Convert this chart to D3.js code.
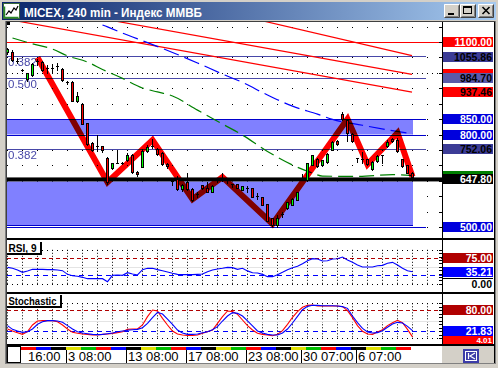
<!DOCTYPE html>
<html><head><meta charset="utf-8">
<script src="https://cdn.jsdelivr.net/npm/d3@7"></script>
<style>html,body{margin:0;padding:0;background:#d4d0c8;overflow:hidden}svg{display:block}</style>
</head><body><svg id="c" width="498" height="368"></svg>
<script>
// ---------------- DATA ----------------
const opens  = [1066,1068,1040,1009,979,993,1038,1036,1017,1016,1022,1012,969,970,910,900,836,772,764,762,724,691,709,706,716,733,679,695,745,764,752,739,705,648,657,622,647,624,606,635,625,614,652,654,651,638,638,621,627,627,601,597,575,528,506,541,562,572,588,660,653,702,722,700,711,751,779,868,847,803,723,722,719,688,715,732,762,787,781,719,700,676];
const highs  = [1080,1075,1047,1011,1000,1032,1045,1040,1025,1029,1031,1015,975,973,937,901,838,775,798,764,726,709,750,712,739,736,680,752,765,784,755,742,708,659,665,640,675,626,614,637,647,636,658,674,660,638,639,634,633,628,610,598,576,530,539,549,582,594,615,672,708,734,724,718,740,778,781,873,848,805,723,744,721,713,733,733,782,790,790,720,701,678];
const lows   = [1062,1038,1033,1007,975,990,1026,1006,1004,998,1009,975,964,908,906,834,766,747,748,744,640,689,706,703,714,676,664,693,743,756,733,701,690,636,620,618,620,585,598,624,612,612,647,648,643,631,625,619,614,597,591,570,518,502,501,533,558,570,586,652,650,700,695,698,708,749,767,846,780,777,712,706,700,686,712,706,760,776,744,695,674,660];
const closes = [1077,1042,1039,1009,998,1028,1037,1010,1016,1015,1021,978,968,910,925,835,768,750,763,750,646,707,708,705,732,677,672,747,760,763,736,703,698,647,622,636,622,587,605,626,614,633,651,653,650,638,626,632,626,598,600,572,521,505,530,540,580,592,613,659,706,732,697,716,738,776,769,849,804,779,723,721,704,711,730,732,776,778,745,697,676,663];

const rsiValues = [48.4,45.5,40.6,33.7,37.6,42.5,42.5,42.5,41.6,41.6,40.6,38.6,27.8,23.9,22,19,15.1,15.1,15.1,15.1,6.3,24.9,25.9,24.9,32.7,28.8,25.9,41.6,45.5,45.5,41.6,38.6,34.7,30.8,27.8,26.9,26.9,26.9,27.8,28.8,35.7,40.6,43.5,45.5,48.4,47.5,42.5,45.5,38,32.7,31.8,27.8,21,21,26.9,33.7,41.6,47.5,51.4,59.2,68,73.9,72.9,67,68,72.9,73.9,78.8,70,63.1,55.3,49.4,49.4,49.4,53.3,54.3,60.2,63.1,55.3,45.5,38.6,35.21];
const stochK = [26.6,20.9,16.1,11.3,18.9,38,49.4,50.4,50.4,50.4,47.5,38,26.6,17,14.2,12.3,11.3,9.4,9.4,11.3,12.3,14.2,16.1,18.9,25.6,26.6,26.6,38,61.8,80.9,78,57,38,20.9,12.3,9.4,8.4,8.4,9.4,14.2,18.9,23.7,42.8,61.8,78,76.2,68.5,52.3,36,23.7,14.2,11.3,9.4,7.5,11.3,21.8,40,60,76.2,88.5,94.2,95.1,92.3,92.3,92.3,92.3,92.3,90.4,79,59,36.2,20,12.3,11.3,18,24.6,36.2,44.7,51.4,44.7,25.6,4.01];
const stochD = [36.2,25.6,20.9,17,18.9,26.6,40,47.5,50.4,50.4,49.4,45.6,36.2,26.6,18.9,15.1,13.2,11.3,10.4,11.3,13.2,15.1,18.9,20.9,22.8,24.6,25.6,30.4,42.8,59,74.2,69.4,55.1,40,23.7,15.1,11.3,11.3,12.3,16.1,18.9,24.6,33.2,49.4,63.7,73.3,71.3,63.7,50,35.2,20.9,15.1,11.3,9.4,9.4,15.1,26.6,43.7,62.8,81.8,91.3,94.2,94.2,93.2,93.2,93.2,92.3,90.4,85.6,63.7,44.7,28.5,18,15.1,16.1,21.8,31.4,41,45.6,43.7,34.2,21.83];

const zigzagIdx = [6,20,29,37,43,53,68,72,78,81];
const zigzagVal = [1050,645,782,590,662,510,850,703,805,663];

const maGreenIdx = [1,5,9,12,16,19,23,27,30,33,38,43,47,52,57,61,63,70,77,81];
const maGreenVal = [1113,1094,1077,1055,1035,1011,982,951,938,925,879,834,798,745,701,675,665,664,670,667];
const maBlueIdx = [19,20,23,28,33,38,43,47,52,57,62,65,71,76,81];
const maBlueVal = [1155,1149,1129,1098,1066,1032,996,969,928,892,866,849,830,815,802];

const trendStartIdx = [0,0,0];
const trendStartVal = [1362,1231,1174];
const trendEndIdx = [81,81,81];
const trendEndVal = [1055.6,995,937.46];

const fibLevels = [1055.86, 984.70, 752.06];
const fibLabels = ["0.382", "0.500", "0.382"];
const zoneTop = [850, 647.80];
const zoneBottom = [800, 506];
const supportLevel = 647.80;
const resistanceLevel = 1100;
const lowLevel = 500;

const priceLabelVals = [1100.00, 1055.86, 984.70, 937.46, 850.00, 800.00, 752.06, 647.80, 500.00];
const rsiLevels = [75, 25];
const stochLevels = [80, 20];

const timeLabels = ["16:00","3 08:00","13 08:00","17 08:00","23 08:00","30 07:00","6 07:00"];
const timeLabelIdx = [4,12,24,36,48,59,70];

const titleText = "MICEX, 240 min - Индекс ММВБ";

// ---------------- SCALES ----------------
const svg = d3.select('#c');
const x  = d3.scaleLinear().domain([0,81]).range([7,412]);
const y  = d3.scaleLinear().domain([500,1100]).range([227,42]);
const yR = d3.scaleLinear().domain([0,100]).range([283.8,249.8]);
const yS = d3.scaleLinear().domain([0,100]).range([338.3,303.3]);
const px = v => Math.round(v) + 0.5;
const FONT = "'Liberation Sans', Arial, sans-serif";

// ---------------- WINDOW CHROME ----------------
const defs = svg.append('defs');
const g1 = defs.append('linearGradient').attr('id','tb').attr('x1','0').attr('x2','1');
g1.append('stop').attr('offset','0').attr('stop-color','#0a246a');
g1.append('stop').attr('offset','1').attr('stop-color','#a6caf0');
defs.append('clipPath').attr('id','mainClip').append('rect').attr('x',7).attr('y',22).attr('width',435).attr('height',216);
defs.append('clipPath').attr('id','rsiClip').append('rect').attr('x',7).attr('y',240).attr('width',435).attr('height',52);
defs.append('clipPath').attr('id','stClip').append('rect').attr('x',7).attr('y',294).attr('width',435).attr('height',50);

svg.append('rect').attr('width',498).attr('height',368).attr('fill','#d4d0c8');
svg.append('rect').attr('x',2).attr('y',2).attr('width',494).attr('height',18).attr('fill','url(#tb)');
// icon
const ic = svg.append('g');
ic.append('rect').attr('x',3.5).attr('y',3.5).attr('width',16).attr('height',15).attr('fill','#fff').attr('stroke','#3a6a3a');
ic.append('path').attr('d','M4.5 6.5 V17.5 H18.5').attr('fill','none').attr('stroke','#2a8a2a').attr('stroke-width',1.5);
ic.append('path').attr('d','M6 15 L9 11 L11 13 L14 8 L16 10 L18 6').attr('fill','none').attr('stroke','#000').attr('stroke-width',1.2);
svg.append('text').attr('x',24).attr('y',16.5).attr('fill','#fff').attr('font-family',FONT).attr('font-weight','bold')
  .attr('font-size',13).attr('textLength',178).attr('lengthAdjust','spacingAndGlyphs').text(titleText);
// buttons
[[444,'min'],[460,'max'],[478,'close']].forEach(([bx,kind])=>{
  const b = svg.append('g');
  b.append('rect').attr('x',bx).attr('y',4).attr('width',16).attr('height',14).attr('fill','#d4d0c8');
  b.append('path').attr('d',`M${bx+0.5} ${17.5} V${4.5} H${bx+15.5}`).attr('fill','none').attr('stroke','#fff');
  b.append('path').attr('d',`M${bx+0.5} ${17.5} H${bx+15.5} V${4.5}`).attr('fill','none').attr('stroke','#404040');
  b.append('path').attr('d',`M${bx+1.5} ${16.5} H${bx+14.5} V${5.5}`).attr('fill','none').attr('stroke','#808080');
  if(kind==='min') b.append('rect').attr('x',bx+4).attr('y',13).attr('width',6).attr('height',2).attr('fill','#000');
  if(kind==='max'){ b.append('rect').attr('x',bx+3.5).attr('y',6.5).attr('width',8).attr('height',7).attr('fill','none').attr('stroke','#000');
    b.append('rect').attr('x',bx+3).attr('y',6).attr('width',9).attr('height',2).attr('fill','#000'); }
  if(kind==='close') b.append('path').attr('d',`M${bx+4.5} ${7} L${bx+11.5} ${14} M${bx+11.5} ${7} L${bx+4.5} ${14}`).attr('stroke','#000').attr('stroke-width',1.6);
});
// client frame
svg.append('rect').attr('x',5).attr('y',21).attr('width',491).attr('height',343).attr('fill','#808080');
svg.append('rect').attr('x',6).attr('y',21).attr('width',489).attr('height',342).attr('fill','#404040');
svg.append('rect').attr('x',7).attr('y',22).attr('width',487).attr('height',341).attr('fill','#fff');
svg.append('rect').attr('x',442).attr('y',346).attr('width',53).attr('height',17).attr('fill','#d4d0c8');
svg.append('rect').attr('x',7).attr('y',22).attr('width',3).attr('height',3).attr('fill','#000');

// ---------------- MAIN PANEL ----------------
const main = svg.append('g').attr('clip-path','url(#mainClip)');
// dotted grid
const gridPrices = d3.range(500, 1151, 50);
const gridCols = d3.range(0, 436, 15).map(d => 7 + d);
gridPrices.forEach(p => {
  const yy = Math.round(y(p));
  const cols = p === 1000 ? d3.range(7, 442, 5) : gridCols;
  cols.forEach(cx => main.append('rect').attr('x',cx).attr('y',yy).attr('width',1).attr('height',1).attr('fill','#000'));
});
// zones
zoneTop.forEach((t,k) => {
  main.append('rect').attr('x',7).attr('y',y(t)).attr('width',406).attr('height',y(zoneBottom[k])-y(t)).attr('fill','#8080ff');
});
// zone border lines
[850,800].forEach(v => main.append('line').attr('x1',7).attr('x2',426).attr('y1',px(y(v))).attr('y2',px(y(v))).attr('stroke','#0000cc'));
main.append('line').attr('x1',7).attr('x2',413).attr('y1',px(y(zoneBottom[1]))).attr('y2',px(y(zoneBottom[1]))).attr('stroke','#0000cc');
main.append('line').attr('x1',7).attr('x2',426).attr('y1',px(y(lowLevel))).attr('y2',px(y(lowLevel))).attr('stroke','#0000cc');
// fib lines
fibLevels.forEach((v,k) => {
  main.append('line').attr('x1',7).attr('x2',426).attr('y1',px(y(v))).attr('y2',px(y(v))).attr('stroke','#4848a8');
  main.append('text').attr('x',8).attr('y',Math.round(y(v))+10).attr('fill','#4848a8').attr('font-family',FONT).attr('font-size',11.5).text(fibLabels[k]);
});
// resistance
main.append('line').attr('x1',7).attr('x2',442).attr('y1',px(y(resistanceLevel))).attr('y2',px(y(resistanceLevel))).attr('stroke','#ff0000');
// trend lines
trendStartIdx.forEach((s,k) => {
  main.append('line').attr('x1',x(s)).attr('y1',y(trendStartVal[k])).attr('x2',x(trendEndIdx[k])).attr('y2',y(trendEndVal[k]))
    .attr('stroke','#ff0000').attr('stroke-width',1.2);
});
// moving averages
const lineMain = d3.line().x(d=>x(d[0])+0.5).y(d=>y(d[1])).curve(d3.curveMonotoneX);
main.append('path').attr('d',lineMain(maGreenIdx.map((d,k)=>[d,maGreenVal[k]]))).attr('fill','none').attr('stroke','#008000').attr('stroke-width',1.2).attr('stroke-dasharray','15,6');
main.append('path').attr('d',lineMain(maBlueIdx.map((d,k)=>[d,maBlueVal[k]]))).attr('fill','none').attr('stroke','#0000ff').attr('stroke-width',1.2).attr('stroke-dasharray','16,6');
// support thick line
const supY = y(supportLevel) - 2;
main.append('rect').attr('x',7).attr('y',supY-2).attr('width',435).attr('height',4).attr('fill','#000');
// zigzag
main.append('path').attr('d',d3.line().x(d=>x(d[0])+0.5).y(d=>y(d[1]))(zigzagIdx.map((d,k)=>[d,zigzagVal[k]])))
  .attr('fill','none').attr('stroke','#ff0000').attr('stroke-width',6).attr('stroke-linejoin','miter')
  .style('mix-blend-mode','multiply');
// candles
const cg = main.append('g');
opens.forEach((o,i) => {
  const h = highs[i], l = lows[i], c = closes[i];
  const cx = x(i) + 0.5;
  cg.append('line').attr('x1',cx).attr('x2',cx).attr('y1',Math.round(y(h))).attr('y2',Math.round(y(l))+1).attr('stroke','#000');
  const top = Math.round(y(Math.max(o,c))), bot = Math.round(y(Math.min(o,c)));
  if (Math.abs(o-c) <= 1.5) {
    cg.append('line').attr('x1',cx-1.5).attr('x2',cx+1.5).attr('y1',top+0.5).attr('y2',top+0.5).attr('stroke','#000');
  } else {
    cg.append('rect').attr('x',cx-1).attr('y',top+0.5).attr('width',2).attr('height',Math.max(1,bot-top))
      .attr('fill', c > o ? '#00ff00' : '#ff0000').attr('stroke','#000').attr('stroke-width',1);
  }
});

// ---------------- PANEL LINES ----------------
svg.append('rect').attr('x',7).attr('y',238).attr('width',487).attr('height',2).attr('fill','#000');
svg.append('rect').attr('x',7).attr('y',292).attr('width',487).attr('height',2).attr('fill','#000');
svg.append('rect').attr('x',7).attr('y',344).attr('width',487).attr('height',2).attr('fill','#000');
svg.append('rect').attr('x',442).attr('y',22).attr('width',1).attr('height',324).attr('fill','#000');
svg.append('rect').attr('x',494).attr('y',22).attr('width',1).attr('height',341).attr('fill','#000');

// price axis ticks
gridPrices.forEach(p => {
  const yy = px(y(p));
  if (yy > 22 && yy < 238) svg.append('line').attr('x1',439).attr('x2',442).attr('y1',yy).attr('y2',yy).attr('stroke','#000');
});

// price labels
function priceBox(v, yc, fill, color, opt) {
  const o = opt || {};
  const hgt = o.h || 10, fs = o.fs || 10.5;
  const top = o.top !== undefined ? o.top : Math.round(yc-5);
  svg.append('rect').attr('x',443).attr('y',top).attr('width',50).attr('height',hgt).attr('fill',fill);
  if (!o.noText) svg.append('text').attr('x',492).attr('y',top+hgt-1).attr('text-anchor','end').attr('fill',color)
    .attr('font-family',FONT).attr('font-weight','bold').attr('font-size',fs).text(d3.format('.2f')(v));
}
const boxStyle = [['#ff0000','#fff'],['#3c3c96','#000'],null,['#ff0000','#000'],['#0000dd','#fff'],['#0000dd','#fff'],['#3c3c96','#000'],['#000','#fff'],['#0000dd','#fff']];
priceLabelVals.forEach((v,k) => {
  if (k === 2) { // trend-line label hidden under the 984.70 label
    priceBox(trendEndVal[1], y(trendEndVal[1]), '#ff0000', '#fff', {noText:true});
    priceBox(v, y(v), '#5a5aaa', '#000');
    return;
  }
  if (k === 7) { // MA label hidden under the 647.80 label
    priceBox(maGreenVal[maGreenVal.length-1], y(maGreenVal[maGreenVal.length-1]), '#008000', '#fff', {noText:true});
    priceBox(v, supY, boxStyle[k][0], boxStyle[k][1]);
    return;
  }
  priceBox(v, k === 1 ? y(v)+1.5 : y(v), boxStyle[k][0], boxStyle[k][1]);
});

// ---------------- INDICATOR PANELS ----------------
function panel(clipId, ys, levels, series, colors, title, titleW) {
  const g = svg.append('g').attr('clip-path',`url(#${clipId})`);
  gridCols.forEach(cx => g.append('line').attr('x1',cx+0.5).attr('x2',cx+0.5).attr('y1',ys(100)).attr('y2',ys(0))
    .attr('stroke','#000').attr('stroke-dasharray','1,2'));
  [100,0].forEach(v => g.append('line').attr('x1',7).attr('x2',442).attr('y1',px(ys(v))).attr('y2',px(ys(v)))
    .attr('stroke','#000').attr('stroke-dasharray','1,4'));
  g.append('line').attr('x1',7).attr('x2',442).attr('y1',px(ys(50))).attr('y2',px(ys(50))).attr('stroke','#e4e4e4');
  g.append('line').attr('x1',7).attr('x2',442).attr('y1',px(ys(levels[0]))).attr('y2',px(ys(levels[0])))
    .attr('stroke','#b00000').attr('stroke-dasharray','4,3');
  g.append('line').attr('x1',7).attr('x2',442).attr('y1',px(ys(levels[1]))).attr('y2',px(ys(levels[1])))
    .attr('stroke','#0000ff').attr('stroke-dasharray','5,4').attr('stroke-width',1.2);
  series.forEach((s,k) => {
    g.append('path').attr('d', d3.line().x((d,i)=>x(i)+0.5).y(d=>ys(d))(s)).attr('fill','none')
      .attr('stroke',colors[k]).attr('stroke-width',1.1);
  });
  d3.range(0,101,10).forEach(v => svg.append('line').attr('x1',439).attr('x2',442).attr('y1',px(ys(v))).attr('y2',px(ys(v))).attr('stroke','#000'));
  const ty = ys(100) - 8;
  svg.append('rect').attr('x',7).attr('y',Math.round(ty)).attr('width',titleW+2).attr('height',13).attr('fill','#000');
  svg.append('rect').attr('x',7).attr('y',Math.round(ty)).attr('width',titleW).attr('height',11).attr('fill','#fff');
  svg.append('text').attr('x',8.5).attr('y',Math.round(ty)+9.5).attr('font-family',FONT).attr('font-weight','bold')
    .attr('font-size',10.5).attr('fill','#000').attr('textLength',titleW-5).attr('lengthAdjust','spacingAndGlyphs').text(title);
}
panel('rsiClip', yR, rsiLevels, [rsiValues], ['#0000ff'], 'RSI, 9', 33);
panel('stClip', yS, stochLevels, [stochK, stochD], ['#ff0000','#0000ff'], 'Stochastic', 53);

// indicator labels
priceBox(rsiLevels[0], yR(rsiLevels[0]), '#b00000', '#fff');
svg.append('text').attr('x',492).attr('y',Math.round(yR(0))+4).attr('text-anchor','end').attr('font-family',FONT)
  .attr('font-weight','bold').attr('font-size',10.5).attr('fill','#000').text('0.00');
svg.append('line').attr('x1',443).attr('x2',493).attr('y1',278.5).attr('y2',278.5).attr('stroke','#000');
priceBox(rsiValues[rsiValues.length-1], yR(rsiValues[rsiValues.length-1]), '#0000ff', '#fff');
priceBox(stochLevels[0], yS(stochLevels[0]), '#b00000', '#fff');
priceBox(stochD[stochD.length-1], yS(stochD[stochD.length-1]), '#0000ff', '#fff');
priceBox(stochK[stochK.length-1], 0, '#ff0000', '#fff', {top:336, h:8, fs:8});

// ---------------- TIME AXIS ----------------
const stripColors = ['#ff0000','#0000ff','#000000','#e0e000','#00c000'];
d3.range(0,26).forEach(k => {
  svg.append('rect').attr('x',21+15*k).attr('y',347).attr('width',15).attr('height',3).attr('fill',stripColors[k%5]);
});
svg.append('rect').attr('x',7.5).attr('y',346.5).attr('width',13).attr('height',16).attr('fill','#fff').attr('stroke','#000');
timeLabels.forEach((t,k) => {
  const sx = x(timeLabelIdx[k]);
  if (k > 0) svg.append('line').attr('x1',sx-0.5).attr('x2',sx-0.5).attr('y1',350).attr('y2',363).attr('stroke','#000');
  svg.append('text').attr('x',sx+1).attr('y',361).attr('font-family',FONT).attr('font-size',13).attr('fill','#000').text(t);
});
// scroll icon
const si = svg.append('g');
si.append('rect').attr('x',463).attr('y',349).attr('width',16).attr('height',14).attr('fill','#3c3ca8');
si.append('rect').attr('x',465.5).attr('y',351.5).attr('width',11).attr('height',9).attr('fill','none').attr('stroke','#fff');
si.append('path').attr('d','M468.5 353 V359 M475 353 L470 356 L475 359').attr('fill','none').attr('stroke','#fff').attr('stroke-width',1.2);
</script></body></html>
